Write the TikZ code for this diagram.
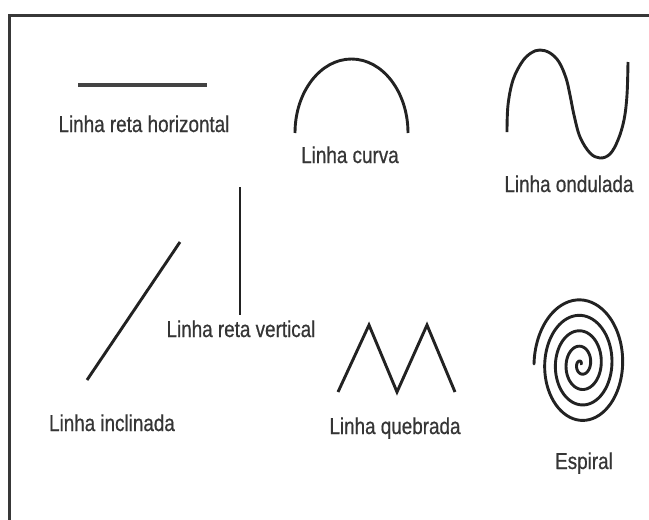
\documentclass[tikz,border=0pt]{standalone}
\usepackage{fontspec}
\setmainfont{Liberation Sans}[FakeStretch=0.82,FakeBold=0.6]
\definecolor{ink}{HTML}{222222}
\definecolor{txt}{HTML}{353535}
\begin{document}
\begin{tikzpicture}[x=1pt,y=-1pt,
  shape line/.style={draw=ink,line width=2.9pt},
  lbl/.style={anchor=base,inner sep=0pt,text=txt,font=\fontsize{23}{26}\selectfont},
  frame/.style={draw=ink!90,line width=3pt}]
\useasboundingbox (0,0) rectangle (649,520);
\fill[white] (0,0) rectangle (649,520);
% frame
\draw[frame] (649,15) -- (9,15) -- (9,520);
% horizontal line
\draw[shape line,line width=3.6pt,draw=ink!85] (78,85) -- (207,85);
\node[lbl] (t1) at (144,132) {Linha reta horizontal};
% curve
\draw[shape line] (295,133) arc[start angle=180,end angle=360,x radius=56.5,y radius=74];
\node[lbl] (t2) at (350,163) {Linha curva};
% wave
\draw[shape line] plot[smooth,tension=0.6] coordinates {(507,132) (508,105) (513,80) (522,62) (531,53) (540,50) (550,53) (559,62) (566,78) (570,95) (574,115) (580,137) (590,153) (600,158) (610,154) (618,140) (624,120) (627,95) (628,62)};
\node[lbl] (t3) at (569,192) {Linha ondulada};
% inclined
\draw[shape line] (87,380) -- (180,242);
\node[lbl] (t4) at (112,431) {Linha inclinada};
% vertical
\draw[shape line] (240,187) -- (240,315);
\node[lbl] (t5) at (241,337) {Linha reta vertical};
% zigzag
\draw[shape line,line join=miter] (338,392) -- (369,325) -- (397,392) -- (427,325) -- (455,392);
\node[lbl] (t6) at (395,434) {Linha quebrada};
% spiral
\draw[shape line,line cap=round] plot[smooth,samples=320,domain=0:1580,variable=\t]
  ({581+47*(1-\t/1580)*cos(180+\t)},{364+68*(1-\t/1580)*sin(180+\t)});
\node[lbl] (t7) at (584,469) {Espiral};
\end{tikzpicture}
\end{document}
